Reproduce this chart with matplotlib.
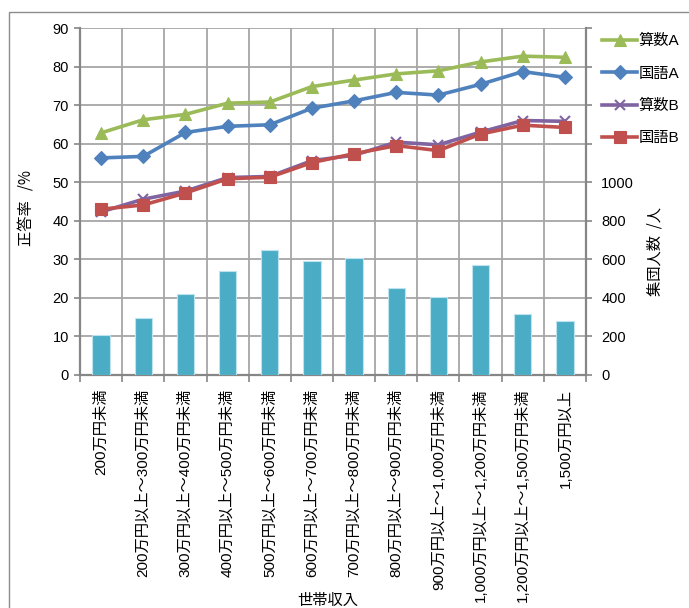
import matplotlib
matplotlib.use("Agg")
import matplotlib.pyplot as plt
import numpy as np
from matplotlib.patches import Rectangle

plt.rcParams['font.family'] = ['Liberation Sans', 'Noto Sans CJK JP', 'DejaVu Sans']

# Household income brackets
categories = [
    "200万円未満",
    "200万円以上～300万円未満",
    "300万円以上～400万円未満",
    "400万円以上～500万円未満",
    "500万円以上～600万円未満",
    "600万円以上～700万円未満",
    "700万円以上～800万円未満",
    "800万円以上～900万円未満",
    "900万円以上～1,000万円未満",
    "1,000万円以上～1,200万円未満",
    "1,200万円以上～1,500万円未満",
    "1,500万円以上",
]

# Correct-answer rates (%)
math_a = [62.8, 66.2, 67.6, 70.5, 70.8, 74.8, 76.5, 78.1, 78.9, 81.2, 82.7, 82.4]
japanese_a = [56.3, 56.7, 62.9, 64.5, 64.9, 69.2, 71.1, 73.3, 72.6, 75.4, 78.7, 77.2]
math_b = [42.3, 45.6, 47.7, 51.2, 51.5, 55.6, 57.0, 60.4, 59.7, 63.0, 66.0, 65.8]
japanese_b = [43.0, 44.1, 47.2, 50.9, 51.3, 55.1, 57.4, 59.5, 58.2, 62.5, 64.8, 64.2]

# Group sizes (persons)
group_size = [205, 297, 419, 541, 650, 590, 606, 450, 403, 571, 315, 279]

fig = plt.figure(figsize=(6.89, 6.08), dpi=100)

# outer chart frame
fig.patches.append(Rectangle((9 / 689, -0.05), 1.1, (608 - 12) / 608 + 0.05,
                             transform=fig.transFigure, fill=False,
                             edgecolor="#8c8c8c", linewidth=1.0))

pos = [80 / 689, (608 - 375) / 608, (586 - 80) / 689, (375 - 28) / 608]
x = np.arange(len(categories))

# bottom axes: bars, gridlines, right-hand axis
axb = fig.add_axes(pos)
axb.bar(x, group_size, width=0.41, color="#4BACC6", edgecolor="#bfe3ee",
        linewidth=0.8, zorder=3)
axb.set_xlim(-0.5, len(categories) - 0.5)
axb.set_ylim(0, 1800)
yt = np.arange(0, 1801, 200)
axb.set_yticks(yt)
axb.set_yticklabels([str(v) if v <= 1000 else "" for v in yt], fontsize=10.5)
axb.yaxis.tick_right()
axb.yaxis.set_label_position("right")
axb.set_ylabel("集団人数  /人", fontsize=11, rotation=90,
               family=['Noto Sans CJK JP'])
axb.yaxis.set_label_coords(1.12, 0.355)
axb.tick_params(axis="y", direction="out", length=4, width=1.2,
                color="#868686", pad=7, labelcolor="black")
axb.set_xticks(np.arange(-0.5, len(categories) + 0.5, 1.0))
axb.set_xticklabels([])
axb.tick_params(axis="x", direction="out", length=5, width=1.2,
                color="#868686")
axb.grid(True, color="#a6a6a6", linewidth=1.3, zorder=0)
axb.set_axisbelow(True)
for side in ("top", "left"):
    axb.spines[side].set_visible(False)
axb.spines["right"].set_color("#868686")
axb.spines["right"].set_linewidth(1.6)
axb.spines["bottom"].set_color("#868686")
axb.spines["bottom"].set_linewidth(1.6)

# top axes: lines with left-hand axis
axl = fig.add_axes(pos, sharex=axb)
axl.patch.set_visible(False)
styles = [
    (math_a, "算数A", "#9BBB59", "^", 9),
    (japanese_a, "国語A", "#4F81BD", "D", 7),
    (math_b, "算数B", "#8064A2", "x", 7),
    (japanese_b, "国語B", "#C0504D", "s", 8.5),
]
handles = []
for vals, name, col, mk, ms in styles:
    h, = axl.plot(x, vals, color=col, linewidth=2.6, marker=mk, markersize=ms,
                  markeredgewidth=1.5 if mk == "x" else 0.8,
                  markerfacecolor=col, markeredgecolor=col, label=name,
                  zorder=4)
    handles.append(h)
axl.set_ylim(0, 90)
axl.set_yticks(np.arange(0, 91, 10))
axl.tick_params(axis="y", direction="out", length=4, width=1.2,
                color="#868686", pad=4, labelsize=10.5)
axl.set_ylabel("正答率   /%", fontsize=11, family=['Noto Sans CJK JP'])
axl.yaxis.set_label_coords(-0.088, 0.48)
axl.tick_params(axis="x", bottom=False, labelbottom=False)
for side in ("top", "right", "bottom"):
    axl.spines[side].set_visible(False)
axl.spines["left"].set_color("#868686")
axl.spines["left"].set_linewidth(1.6)

# category labels, read bottom to top
for i, lab in enumerate(categories):
    axb.text(i, -0.04, lab, rotation=90, ha="center", va="top",
             fontsize=11, transform=axb.get_xaxis_transform(),
             rotation_mode="default")

fig.text(328 / 689, 1 - 600 / 608, "世帯収入", ha="center", va="center",
         fontsize=11, family=['Noto Sans CJK JP'])

fig.legend(handles=handles, loc="upper left",
           bbox_to_anchor=(596 / 689, 1 - 28 / 608), frameon=False,
           fontsize=11, handlelength=2.3, handletextpad=0.1,
           labelspacing=1.2, borderaxespad=0)

fig.savefig("out.png", dpi=100)
